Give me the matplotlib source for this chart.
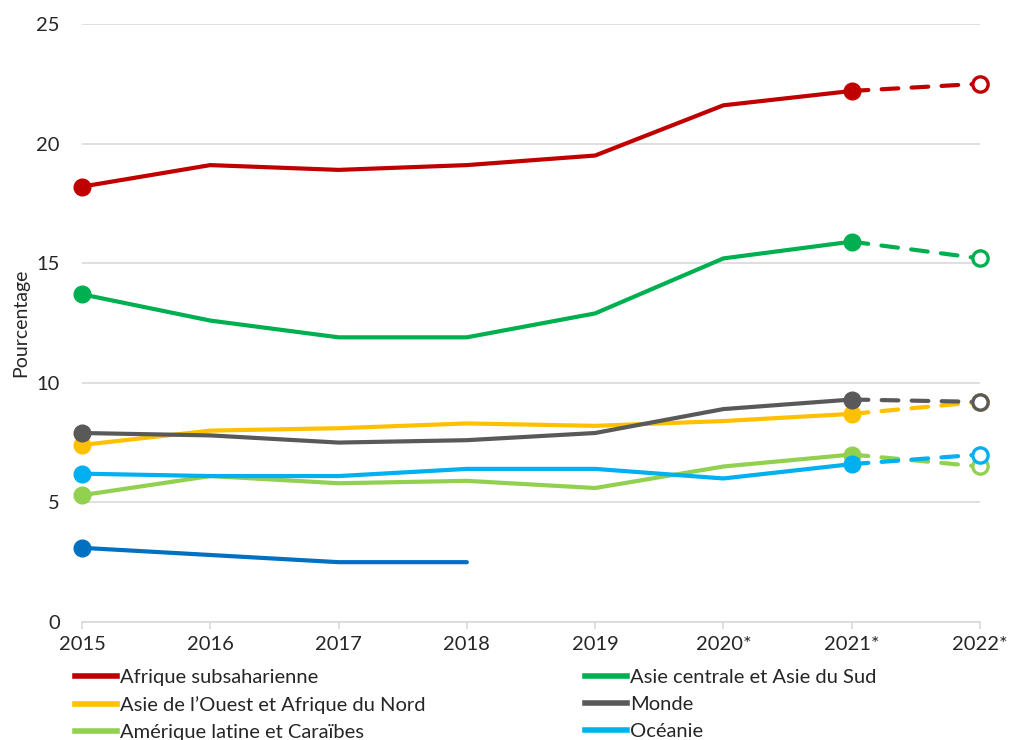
import matplotlib.pyplot as plt
from matplotlib.lines import Line2D

plt.rcParams['font.family'] = ['Lato', 'DejaVu Sans']

years = ['2015', '2016', '2017', '2018', '2019', '2020*', '2021*', '2022*']

afrique_ss = [18.2, 19.1, 18.9, 19.1, 19.5, 21.6, 22.2, 22.5]
asie_centrale = [13.7, 12.6, 11.9, 11.9, 12.9, 15.2, 15.9, 15.2]
asie_ouest = [7.4, 8.0, 8.1, 8.3, 8.2, 8.4, 8.7, 9.2]
monde = [7.9, 7.8, 7.5, 7.6, 7.9, 8.9, 9.3, 9.2]
amerique_latine = [5.3, 6.1, 5.8, 5.9, 5.6, 6.5, 7.0, 6.5]
oceanie = [6.2, 6.1, 6.1, 6.4, 6.4, 6.0, 6.6, 7.0]
autre = [3.1, 2.8, 2.5, 2.5]

series = [
    ('Afrique subsaharienne', afrique_ss, '#C00000'),
    ('Asie centrale et Asie du Sud', asie_centrale, '#00B050'),
    ('Asie de l\u2019Ouest et Afrique du Nord', asie_ouest, '#FFC000'),
    ('Monde', monde, '#595959'),
    ('Am\u00e9rique latine et Cara\u00efbes', amerique_latine, '#92D050'),
    ('Oc\u00e9anie', oceanie, '#00B0F0'),
]

fig = plt.figure(figsize=(10.11, 7.40), dpi=100)
ax = fig.add_axes([0.0811, 0.1595, 0.8882, 0.8081])

x = list(range(len(years)))
lw = 3.0
ms = 12

# draw back to front roughly like the original
order = [4, 5, 2, 3, 1, 0]
for i in order:
    name, vals, col = series[i]
    ax.plot(x[:7], vals[:7], color=col, lw=lw, solid_capstyle='round', zorder=3)
    ax.plot(x[6:], vals[6:], color=col, lw=lw, ls=(0, (4.0, 3.2)), dash_capstyle='round', zorder=3)
    ax.plot([x[0], x[6]], [vals[0], vals[6]], 'o', color=col, ms=ms, zorder=4)
    ax.plot([x[7]], [vals[7]], 'o', mfc='white', mec=col, mew=2.4, ms=ms - 1, zorder=4)

ax.plot(x[:4], autre, color='#0070C0', lw=lw, solid_capstyle='round', zorder=3)
ax.plot([x[0]], [autre[0]], 'o', color='#0070C0', ms=ms, zorder=4)

ax.set_xlim(0, 7)
ax.set_ylim(0, 25)
ax.set_yticks([0, 5, 10, 15, 20, 25])
ax.set_xticks(x)
ax.set_xticklabels(years)
ax.yaxis.grid(True, color='#D9D9D9', lw=1.2)
ax.set_axisbelow(True)
for s in ['top', 'right', 'left']:
    ax.spines[s].set_visible(False)
ax.spines['bottom'].set_color('#D9D9D9')
ax.spines['bottom'].set_linewidth(1.2)
ax.tick_params(axis='y', length=0, pad=16, labelsize=14.5, colors='#262626')
ax.tick_params(axis='x', length=5, color='#D9D9D9', width=1.2, pad=5, labelsize=14.5, colors='#262626')
ax.set_ylabel('Pourcentage', fontsize=14, color='#262626', labelpad=5)
for t in ax.get_lines():
    t.set_clip_on(False)

def handles(idx):
    return [Line2D([0], [0], color=series[i][2], lw=4) for i in idx]

left_idx = [0, 2, 4]
right_idx = [1, 3, 5]
leg_kw = dict(frameon=False, fontsize=14.5, handlelength=2.1, handletextpad=0.15,
              labelspacing=0.5, borderaxespad=0, borderpad=0, labelcolor='#262626')
fig.legend(handles(left_idx), [series[i][0] for i in left_idx],
           loc='upper left', bbox_to_anchor=(75 / 1011, 1 - 669 / 740), **leg_kw)
fig.legend(handles(right_idx), [series[i][0] for i in right_idx],
           loc='upper left', bbox_to_anchor=(585 / 1011, 1 - 669 / 740), **leg_kw)

fig.savefig('out.png', dpi=100)
